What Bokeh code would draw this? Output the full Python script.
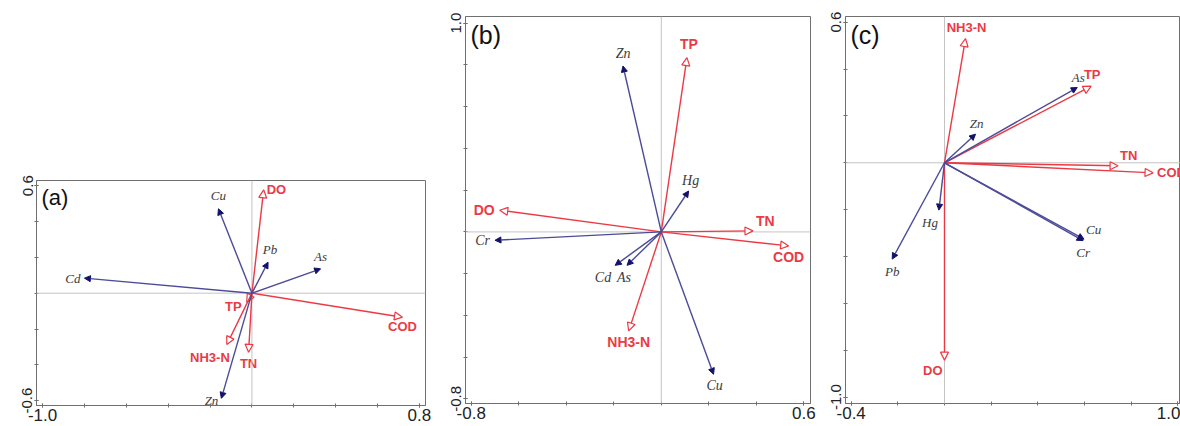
import numpy as np
from bokeh.plotting import figure
from bokeh.models import (ColumnDataSource, Arrow, NormalHead, Span, FixedTicker,
                          Label, Range1d, NumeralTickFormatter, Spacer)
from bokeh.layouts import row, column
from bokeh.embed import file_html
from bokeh.resources import INLINE
from bokeh.core.properties import value

# ---------------- data ----------------
# Panel (a)
a_metals = ["Cd", "Cu", "Pb", "As", "Zn"]
a_metal_x = [-0.80, -0.16, 0.077, 0.328, -0.146]
a_metal_y = [0.084, 0.471, 0.173, 0.136, -0.587]
a_env = ["DO", "COD", "TP", "NH3-N", "TN"]
a_env_x = [0.056, 0.719, -0.025, -0.12, -0.016]
a_env_y = [0.577, -0.134, -0.05, -0.287, -0.33]
a_xticks = [-1.0, 0.8]
a_yticks = [-0.6, 0.6]

# Panel (b)
b_metals = ["Zn", "Hg", "Cr", "Cd", "As", "Cu"]
b_metal_x = [-0.161, 0.115, -0.70, -0.194, -0.144, 0.22]
b_metal_y = [0.795, 0.196, -0.04, -0.16, -0.16, -0.682]
b_env = ["TP", "DO", "TN", "COD", "NH3-N"]
b_env_x = [0.108, -0.68, 0.386, 0.536, -0.137]
b_env_y = [0.835, 0.104, 0.005, -0.067, -0.474]
b_xticks = [-0.8, 0.6]
b_yticks = [-0.8, 1.0]

# Panel (c)
c_metals = ["As", "Zn", "Hg", "Pb", "Cu", "Cr"]
c_metal_x = [0.569, 0.133, -0.024, -0.224, 0.598, 0.594]
c_metal_y = [0.321, 0.122, -0.202, -0.411, -0.326, -0.332]
c_env = ["NH3-N", "TP", "TN", "COD", "DO"]
c_env_x = [0.09, 0.629, 0.744, 0.894, 0.0]
c_env_y = [0.53, 0.327, -0.013, -0.043, -0.842]
c_xticks = [-0.4, 1.0]
c_yticks = [-1.0, 0.6]

# ---------------- label placement (screen px) ----------------
a_metal_lab = dict(align=["right", "center", "center", "center", "right"],
                   base=["middle", "bottom", "bottom", "bottom", "middle"],
                   dx=[-4, 0, 2, 0, -3], dy=[0, -6, -5, -5, 2])
a_env_lab = dict(align=["left", "center", "right", "right", "center"],
                 base=["middle", "top", "middle", "top", "top"],
                 dx=[3, 0, -5, 3, 0], dy=[0, 2, 4, 5, 4])

b_metal_lab = dict(align=["center", "center", "right", "right", "center", "center"],
                   base=["bottom", "bottom", "middle", "top", "top", "top"],
                   dx=[0, 2, -5, -4, -3, 1], dy=[-5, -3, 0, 5, 5, 4])
b_env_lab = dict(align=["center", "right", "left", "center", "center"],
                 base=["bottom", "middle", "bottom", "top", "top"],
                 dx=[2, -5, 3, 0, 0], dy=[-6, 0, -2, 3, 3])

c_metal_lab = dict(align=["center", "center", "right", "center", "left", "center"],
                   base=["bottom", "bottom", "top", "top", "bottom", "top"],
                   dx=[1, 1, -1, 0, 2, 0], dy=[-3, -3, 5, 5, -2, 4])
c_env_lab = dict(align=["center", "center", "left", "left", "right"],
                 base=["bottom", "bottom", "bottom", "middle", "top"],
                 dx=[1, 1, 2, 4, -2], dy=[-4, -4, -3, 0, 3])

RED = "#ec3a45"
BLUE_LINE = "#4b4b98"
BLUE_HEAD = "#12126b"
LAB_GRAY = "#3a3a3a"
FRAME = "#707070"


def make_panel(tag, xr, yr, xmaj, ymaj, metals, mx, my, env, ex, ey,
               mlab, elab, width, height, borders, tag_size, lab_size):
    p = figure(width=width, height=height, output_backend="svg", toolbar_location=None,
               x_range=Range1d(*xr), y_range=Range1d(*yr))
    p.min_border_left, p.min_border_right, p.min_border_top, p.min_border_bottom = borders
    p.xgrid.visible = False
    p.ygrid.visible = False
    p.outline_line_color = FRAME
    p.outline_line_width = 1
    p.background_fill_color = "white"
    p.border_fill_color = "white"

    xminor = list(np.round(np.arange(xmaj[0], xmaj[1] + 1e-9, 0.2), 2))
    yminor = list(np.round(np.arange(ymaj[0], ymaj[1] + 1e-9, 0.2), 2))
    p.xaxis.ticker = FixedTicker(ticks=xmaj, minor_ticks=xminor)
    p.yaxis.ticker = FixedTicker(ticks=ymaj, minor_ticks=yminor)
    for ax in (p.xaxis, p.yaxis):
        ax.formatter = NumeralTickFormatter(format="0.0")
        ax.axis_line_color = FRAME
        ax.major_tick_line_color = FRAME
        ax.minor_tick_line_color = FRAME
        ax.major_label_text_font = "Liberation Sans"
        ax.major_label_text_color = "#222222"
    p.xaxis.major_tick_in = 2
    p.xaxis.major_tick_out = 2
    p.xaxis.minor_tick_in = 2
    p.xaxis.minor_tick_out = 2
    p.xaxis.major_label_standoff = 1
    p.xaxis.major_label_text_font_size = "17px"
    p.yaxis.major_tick_in = 2
    p.yaxis.major_tick_out = 2
    p.yaxis.minor_tick_in = 2
    p.yaxis.minor_tick_out = 2
    p.yaxis.major_label_standoff = 2
    p.yaxis.major_label_orientation = "vertical"
    p.yaxis.major_label_text_font_size = "15px"

    p.add_layout(Span(location=0, dimension="width", line_color="#c4c4c4", line_width=1))
    p.add_layout(Span(location=0, dimension="height", line_color="#c4c4c4", line_width=1))

    msrc = ColumnDataSource(dict(x0=[0.0] * len(metals), y0=[0.0] * len(metals),
                                 x=mx, y=my, t=metals, align=mlab["align"],
                                 base=mlab["base"], dx=mlab["dx"], dy=mlab["dy"]))
    esrc = ColumnDataSource(dict(x0=[0.0] * len(env), y0=[0.0] * len(env),
                                 x=ex, y=ey, t=env, align=elab["align"],
                                 base=elab["base"], dx=elab["dx"], dy=elab["dy"]))

    p.add_layout(Arrow(source=esrc, x_start="x0", y_start="y0", x_end="x", y_end="y",
                       line_color=RED, line_width=1.4,
                       end=NormalHead(size=8, fill_color="white", line_color=RED,
                                      line_width=1.2)))
    p.add_layout(Arrow(source=msrc, x_start="x0", y_start="y0", x_end="x", y_end="y",
                       line_color=BLUE_LINE, line_width=1.4,
                       end=NormalHead(size=6, fill_color=BLUE_HEAD, line_color=BLUE_HEAD,
                                      line_width=1)))

    p.text(x="x", y="y", text="t", source=msrc, x_offset="dx", y_offset="dy",
           text_align="align", text_baseline="base", text_color=LAB_GRAY,
           text_font=value("Liberation Serif"), text_font_style="italic",
           text_font_size=lab_size)
    p.text(x="x", y="y", text="t", source=esrc, x_offset="dx", y_offset="dy",
           text_align="align", text_baseline="base", text_color=RED,
           text_font=value("Liberation Sans"), text_font_style="bold",
           text_font_size=lab_size)

    p.add_layout(Label(x=xr[0], y=yr[1], x_offset=5, y_offset=-4, text=tag,
                       text_baseline="top", text_align="left",
                       text_font="Liberation Sans", text_font_size=tag_size,
                       text_color="#111111"))
    return p


pa = make_panel("(a)", (-1.029, 0.829), (-0.627, 0.629), a_xticks, a_yticks,
                a_metals, a_metal_x, a_metal_y, a_env, a_env_x, a_env_y,
                a_metal_lab, a_env_lab, 440, 252, (36, 15, 8, 19), "22px", "13px")
pb = make_panel("(b)", (-0.824, 0.628), (-0.822, 1.032), b_xticks, b_yticks,
                b_metals, b_metal_x, b_metal_y, b_env, b_env_x, b_env_y,
                b_metal_lab, b_env_lab, 382, 424, (25, 12, 16, 21), "25px", "14px")
pc = make_panel("(c)", (-0.4243, 1.0116), (-1.027, 0.624), c_xticks, c_yticks,
                c_metals, c_metal_x, c_metal_y, c_env, c_env_x, c_env_y,
                c_metal_lab, c_env_lab, 358, 424, (23, 0, 16, 21), "25px", "13px")

left = column(Spacer(width=440, height=172), pa)
layout = row(left, pb, pc)
open("out.html", "w").write(file_html(layout, INLINE))
